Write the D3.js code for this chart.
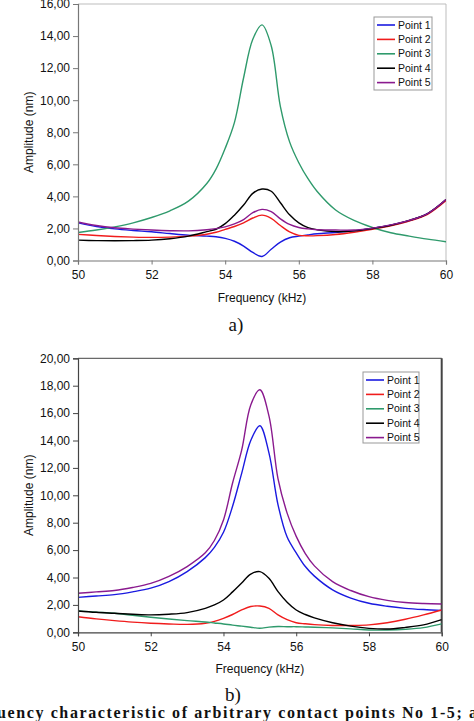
<!DOCTYPE html>
<html><head><meta charset="utf-8">
<script src="https://cdn.jsdelivr.net/npm/d3@7"></script>
<style>body{margin:0;background:#fff}svg{display:block}text{font-family:"Liberation Sans",Arial,sans-serif}text.serif{font-family:"Liberation Serif","Times New Roman",serif}</style>
</head><body>
<svg id="c" width="474" height="721"></svg>
<script>
const freq = [50,50.5,51,51.5,52,52.5,53,53.5,53.75,54,54.25,54.5,54.75,55,55.25,55.5,55.75,56,56.25,56.5,57,57.5,58,58.5,59,59.5,60];
const seriesNames = ["Point 1","Point 2","Point 3","Point 4","Point 5"];
const seriesColors = ["#1a1ae0","#f01c1c","#2f9a6c","#000000","#8a1a8e"];
// chart a)
const a_p1 = [2.35,2.12,1.97,1.87,1.79,1.68,1.58,1.52,1.48,1.38,1.2,0.9,0.5,0.25,0.7,1.15,1.42,1.52,1.6,1.67,1.75,1.85,2.0,2.2,2.48,2.92,3.78];
const a_p2 = [1.63,1.56,1.5,1.46,1.44,1.46,1.52,1.64,1.76,1.94,2.12,2.35,2.65,2.83,2.63,2.18,1.78,1.57,1.54,1.55,1.62,1.76,1.94,2.16,2.46,2.88,3.73];
const a_p3 = [1.75,1.9,2.1,2.35,2.68,3.1,3.7,4.8,5.7,7.0,8.6,11.4,13.8,14.7,13.4,9.6,7.4,6.1,5.1,4.3,3.15,2.5,2.06,1.73,1.52,1.33,1.17];
const a_p4 = [1.27,1.24,1.23,1.24,1.27,1.36,1.52,1.8,1.95,2.3,2.83,3.46,4.19,4.46,4.32,3.6,2.85,2.35,2.05,1.92,1.8,1.85,2.0,2.2,2.5,2.93,3.8];
const a_p5 = [2.4,2.18,2.04,1.96,1.9,1.86,1.85,1.92,1.99,2.1,2.28,2.55,2.98,3.19,3.05,2.6,2.25,2.06,1.97,1.92,1.9,1.9,2.02,2.22,2.5,2.93,3.8];
// chart b)
const b_p1 = [2.55,2.65,2.75,2.95,3.22,3.7,4.43,5.45,6.2,7.3,9.2,11.6,14.0,15.08,13.1,9.3,6.95,5.8,4.8,4.1,3.1,2.5,2.12,1.9,1.75,1.66,1.6];
const b_p2 = [1.14,0.98,0.85,0.74,0.66,0.61,0.58,0.66,0.8,1.02,1.3,1.63,1.88,1.92,1.75,1.27,0.92,0.7,0.62,0.56,0.5,0.5,0.54,0.7,0.95,1.27,1.63];
const b_p3 = [1.56,1.47,1.39,1.24,1.1,0.97,0.85,0.75,0.68,0.61,0.52,0.45,0.37,0.3,0.38,0.42,0.41,0.41,0.39,0.37,0.32,0.25,0.17,0.17,0.22,0.34,0.61];
const b_p4 = [1.56,1.46,1.39,1.32,1.27,1.32,1.44,1.75,2.0,2.36,2.95,3.6,4.25,4.43,3.94,2.97,2.2,1.63,1.3,1.05,0.7,0.45,0.29,0.24,0.36,0.54,0.92];
const b_p5 = [2.85,2.95,3.05,3.27,3.57,4.08,4.8,5.8,6.7,8.2,10.9,13.3,16.6,17.7,15.8,11.2,8.7,7.0,5.75,4.85,3.7,3.05,2.6,2.33,2.17,2.1,2.07];
const xTicks = [50,52,54,56,58,60];
const yTicksA = [0,2,4,6,8,10,12,14,16];
const yTicksB = [0,2,4,6,8,10,12,14,16,18,20];
const fmt = v => d3.format(".2f")(v).replace(".", ",");

const svg = d3.select("#c");

function chart(o){
  const g = svg.append("g");
  const x = d3.scaleLinear().domain([50,60]).range([o.x0,o.x1]);
  const y = d3.scaleLinear().domain([0,o.ymax]).range([o.y1,o.y0]);
  const id = "clip"+o.key;
  svg.append("clipPath").attr("id",id).append("rect")
    .attr("x",o.x0).attr("y",o.y0).attr("width",o.x1-o.x0).attr("height",o.y1-o.y0);
  g.append("line").attr("x1",o.x0).attr("x2",o.x1).attr("y1",o.y0).attr("y2",o.y0)
    .attr("stroke",o.frame).attr("stroke-width",1);
  g.append("line").attr("x1",o.x1).attr("x2",o.x1).attr("y1",o.y0).attr("y2",o.y1)
    .attr("stroke",o.frame).attr("stroke-width",o.rw);
  const lines = g.append("g").attr("clip-path",`url(#${id})`);
  const line = d3.line().x((d,i)=>x(freq[i])).y(d=>y(d)).curve(d3.curveCatmullRom.alpha(0.5));
  o.data.forEach((s,i)=>{
    lines.append("path").attr("d",line(s)).attr("fill","none")
      .attr("stroke",seriesColors[i]).attr("stroke-width",1.4);
  });
  const ax = g.append("g").attr("transform",`translate(0,${o.y1})`)
    .call(d3.axisBottom(x).tickValues(xTicks).tickSize(4).tickPadding(6).tickFormat(d3.format("d")));
  const ay = g.append("g").attr("transform",`translate(${o.x0},0)`)
    .call(d3.axisLeft(y).tickValues(o.yt).tickSize(5).tickPadding(3).tickFormat(fmt));
  [ax,ay].forEach(a=>{
    a.selectAll("path").attr("stroke",o.axis).attr("stroke-width",1.2);
    a.selectAll("line").attr("stroke",o.axis);
    a.selectAll("text").attr("font-size",12).attr("fill","#111");
  });
  g.append("text").attr("x",(o.x0+o.x1)/2).attr("y",o.y1+41).attr("text-anchor","middle")
    .attr("font-size",12).attr("fill","#111").text("Frequency (kHz)");
  g.append("text").attr("transform",`translate(33,${(o.y0+o.y1)/2}) rotate(-90)`)
    .attr("text-anchor","middle").attr("font-size",12).attr("fill","#111").text("Amplitude (nm)");
  const L = o.leg;
  const lg = g.append("g");
  lg.append("rect").attr("x",L.x).attr("y",L.y).attr("width",L.w).attr("height",L.h)
    .attr("fill","#fff").attr("stroke","#999").attr("stroke-width",1);
  seriesNames.forEach((n,i)=>{
    const yy = L.y+8+i*14.4;
    lg.append("line").attr("x1",L.x+3).attr("x2",L.x+21).attr("y1",yy).attr("y2",yy)
      .attr("stroke",seriesColors[i]).attr("stroke-width",1.6);
    lg.append("text").attr("x",L.x+24).attr("y",yy+3.6).attr("font-size",10.5).attr("fill","#111").text(n);
  });
  svg.append("text").attr("class","serif").attr("x",o.capx).attr("y",o.capy).attr("text-anchor","middle")
    .attr("font-size",19).attr("fill","#111").text(o.cap);
}

chart({key:"a",x0:78,x1:446,y0:4,y1:260.5,ymax:16,yt:yTicksA,data:[a_p1,a_p2,a_p3,a_p4,a_p5],
  frame:"#bdbdbd",rw:1,axis:"#777",leg:{x:374,y:17,w:58,h:73},cap:"a)",capx:236,capy:331});
chart({key:"b",x0:78,x1:441.7,y0:358.3,y1:632.3,ymax:20,yt:yTicksB,data:[b_p1,b_p2,b_p3,b_p4,b_p5],
  frame:"#444",rw:2,axis:"#444",leg:{x:363,y:372,w:56,h:71},cap:"b)",capx:233,capy:701});

svg.append("text").attr("class","serif").attr("x",-3).attr("y",718).attr("textLength",480).attr("lengthAdjust","spacing")
  .attr("font-weight","bold").attr("font-size",16).attr("fill","#111")
  .text("uency characteristic of arbitrary contact points No 1-5; a");
</script>
</body></html>
